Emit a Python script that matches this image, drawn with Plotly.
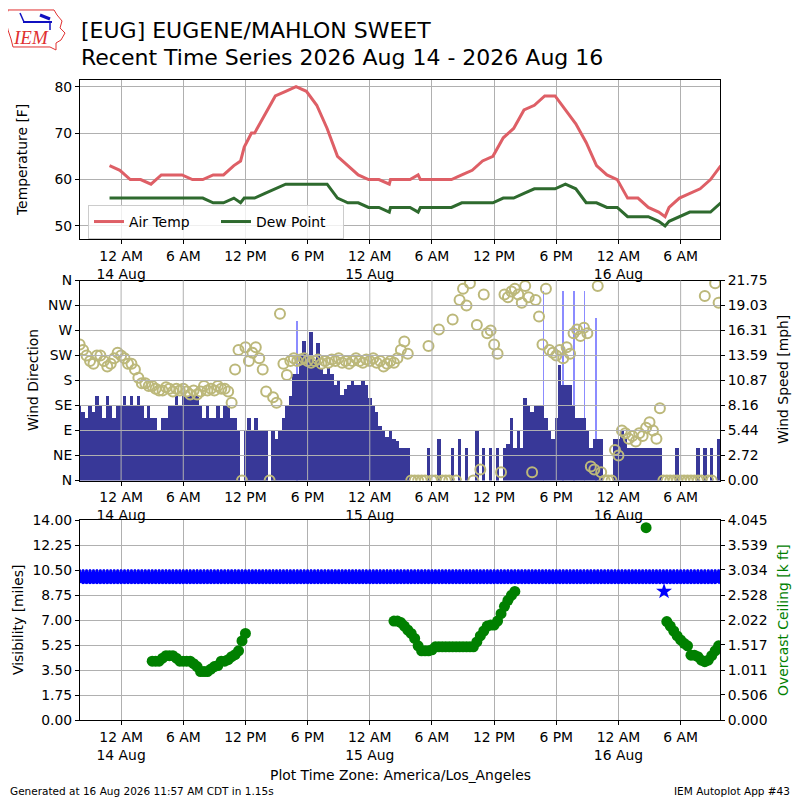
import pandas as pd
import plotly.graph_objects as go

# ── 小时观测：气温 / 露点 (°F) ──
TEMP_TIMES = [
    "2026-08-13 22:53", "2026-08-13 23:53",
    "2026-08-14 00:53", "2026-08-14 01:53", "2026-08-14 02:53", "2026-08-14 03:53",
    "2026-08-14 04:53", "2026-08-14 05:53", "2026-08-14 06:53", "2026-08-14 07:53",
    "2026-08-14 08:53", "2026-08-14 09:53", "2026-08-14 10:53", "2026-08-14 11:32",
    "2026-08-14 11:53", "2026-08-14 12:35", "2026-08-14 12:53", "2026-08-14 13:53",
    "2026-08-14 14:53", "2026-08-14 15:53", "2026-08-14 16:53", "2026-08-14 17:53",
    "2026-08-14 18:53", "2026-08-14 19:53", "2026-08-14 20:53", "2026-08-14 21:53",
    "2026-08-14 22:53", "2026-08-14 23:53",
    "2026-08-15 00:53", "2026-08-15 01:53", "2026-08-15 02:00", "2026-08-15 02:53",
    "2026-08-15 03:53", "2026-08-15 04:40", "2026-08-15 04:53", "2026-08-15 05:53",
    "2026-08-15 06:53", "2026-08-15 07:53", "2026-08-15 08:53", "2026-08-15 09:53",
    "2026-08-15 10:53", "2026-08-15 11:53", "2026-08-15 12:53", "2026-08-15 13:53",
    "2026-08-15 14:53", "2026-08-15 15:53", "2026-08-15 16:53", "2026-08-15 17:53",
    "2026-08-15 18:53", "2026-08-15 19:53", "2026-08-15 20:53", "2026-08-15 21:53",
    "2026-08-15 22:53", "2026-08-15 23:53",
    "2026-08-16 00:53", "2026-08-16 01:53", "2026-08-16 02:53", "2026-08-16 03:53",
    "2026-08-16 04:30", "2026-08-16 04:53", "2026-08-16 05:53", "2026-08-16 06:53",
    "2026-08-16 07:53", "2026-08-16 08:53", "2026-08-16 09:53",
]
TEMP_F = [
    63, 62,
    60, 60, 59, 61, 61, 61, 60, 60, 61, 61, 63, 64, 67, 70, 70, 74, 78, 79, 80, 79,
    76, 71, 65, 63, 61, 60,
    60, 59, 60, 60, 60, 61, 60, 60, 60, 60, 61, 62, 64, 65, 69, 71, 75, 76, 78, 78,
    75, 72, 68, 63, 61, 60,
    56, 56, 54, 53, 52, 54, 56, 57, 58, 60, 63,
]
DEWP_F = [
    56, 56,
    56, 56, 56, 56, 56, 56, 56, 56, 55, 55, 56, 55, 56, 56, 56, 57, 58, 59, 59, 59,
    59, 59, 56, 55, 55, 54,
    54, 53, 54, 54, 54, 53, 54, 54, 54, 54, 55, 55, 55, 55, 56, 56, 57, 58, 58, 58,
    59, 58, 55, 55, 54, 54,
    52, 52, 52, 51, 50, 51, 52, 53, 53, 53, 55,
]

# ── 20 分钟采样：风速 (mph) / 风向 (deg) / 能见度 (mi) / 云底 (k ft) ──
GRID_START = "2026-08-13 20:00"
WIND_MPH = [
    8.2, 7.5, 6.9, 8.2, 7.5, 9.2, 8.2, 6.9, 9.2, 8.2,
    6.9, 8.2, 8.2, 9.2, 8.2, 9.2, 8.2, 9.2, 8.2, 6.9,
    8.2, 6.9, 6.9, 5.4, 6.9, 6.9, 8.2, 8.2, 9.2, 8.2,
    9.2, 9.2, 9.2, 9.2, 9.2, 8.2, 6.9, 8.2, 6.9, 6.9,
    8.2, 6.9, 8.2, 8.2, 6.9, 6.9, 5.4, 0, 5.4, 6.9,
    5.4, 6.9, 5.4, 5.4, 5.4, 0, 5.4, 4.6, 5.4, 6.9,
    8.2, 9.2, 11.6, 11.6, 13.6, 15.2, 13.6, 16.2, 13.0, 15.0,
    12.3, 11.6, 12.3, 11.6, 10.4, 11.0, 9.4, 10.0, 10.4, 11.0,
    10.4, 10.4, 11.0, 10.4, 9.0, 8.2, 7.5, 6.0, 5.4, 4.8,
    5.4, 4.6, 4.3, 3.6, 3.6, 3.6, 0, 0, 0, 0,
    0, 3.6, 0, 0, 4.6, 0, 0, 0, 3.6, 0,
    4.6, 0, 3.6, 0, 0, 5.4, 0, 3.6, 0, 3.6,
    0, 3.6, 0, 3.6, 4.0, 6.9, 3.6, 5.4, 3.6, 9.0,
    8.2, 7.5, 8.2, 8.2, 8.2, 6.9, 5.4, 4.6, 6.9, 12.6,
    10.4, 10.4, 10.4, 8.2, 6.9, 6.9, 6.9, 5.4, 3.6, 4.6,
    4.6, 4.6, 0, 0, 0, 4.6, 4.6, 5.4, 4.6, 3.6,
    3.6, 3.6, 3.6, 3.6, 3.6, 3.6, 3.6, 3.6, 3.6, 0,
    0, 0, 0, 3.6, 0, 0, 0, 0, 0, 3.6,
    0, 3.6, 0, 3.6, 0, 4.6,
]
WIND_DIR = [
    245, 235, 225, 215, 210, 225, 225, 215, 205, 210,
    220, 230, 225, 220, 210, 210, 200, 185, 175, 175,
    170, 170, 165, 162, 162, 168, 165, 160, 165, 162,
    165, 160, 155, 162, 155, 160, 170, 162, 165, 162,
    170, 165, 165, 160, 140, 200, 235, 0, 240, 215,
    230, 240, 220, 200, 160, 0, 150, 140, 300, 210,
    190, 215, 220, 215, 218, 220, 215, 212, 215, 218,
    210, 215, 212, 218, 215, 220, 212, 215, 210, 215,
    220, 215, 212, 218, 215, 220, 212, 215, 205, 210,
    215, 212, 220, 235, 250, 228, 0, 0, 0, 0,
    0, 242, 0, 0, 272, 0, 0, 0, 290, 0,
    325, 345, 315, 355, 0, 280, 20, 335, 265, 270,
    245, 228, 15, 335, 330, 340, 345, 335, 320, 350,
    330, 15, 325, 295, 245, 345, 235, 230, 225, 235,
    220, 240, 228, 265, 272, 260, 275, 265, 25, 20,
    350, 15, 0, 0, 0, 55, 45, 90, 85, 75,
    80, 70, 85, 80, 95, 105, 90, 75, 130, 0,
    0, 0, 0, 0, 0, 0, 0, 0, 0, 0,
    0, 332, 0, 0, 355, 320,
]
VIS_MILES = [
    10.0, 10.0, 10.0, 10.0, 10.0, 10.0, 10.0, 10.0, 10.0, 10.0,
    10.0, 10.0, 10.0, 10.0, 10.0, 10.0, 10.0, 10.0, 10.0, 10.0,
    10.0, 10.0, 10.0, 10.0, 10.0, 10.0, 10.0, 10.0, 10.0, 10.0,
    10.0, 10.0, 10.0, 10.0, 10.0, 10.0, 10.0, 10.0, 10.0, 10.0,
    10.0, 10.0, 10.0, 10.0, 10.0, 10.0, 10.0, 10.0, 10.0, 10.0,
    10.0, 10.0, 10.0, 10.0, 10.0, 10.0, 10.0, 10.0, 10.0, 10.0,
    10.0, 10.0, 10.0, 10.0, 10.0, 10.0, 10.0, 10.0, 10.0, 10.0,
    10.0, 10.0, 10.0, 10.0, 10.0, 10.0, 10.0, 10.0, 10.0, 10.0,
    10.0, 10.0, 10.0, 10.0, 10.0, 10.0, 10.0, 10.0, 10.0, 10.0,
    10.0, 10.0, 10.0, 10.0, 10.0, 10.0, 10.0, 10.0, 10.0, 10.0,
    10.0, 10.0, 10.0, 10.0, 10.0, 10.0, 10.0, 10.0, 10.0, 10.0,
    10.0, 10.0, 10.0, 10.0, 10.0, 10.0, 10.0, 10.0, 10.0, 10.0,
    10.0, 10.0, 10.0, 10.0, 10.0, 10.0, 10.0, 10.0, 10.0, 10.0,
    10.0, 10.0, 10.0, 10.0, 10.0, 10.0, 10.0, 10.0, 10.0, 10.0,
    10.0, 10.0, 10.0, 10.0, 10.0, 10.0, 10.0, 10.0, 10.0, 10.0,
    10.0, 10.0, 10.0, 10.0, 10.0, 10.0, 10.0, 10.0, 10.0, 10.0,
    10.0, 10.0, 10.0, 10.0, 10.0, 10.0, 10.0, 10.0, 10.0, 10.0,
    10.0, 10.0, 10.0, 10.0, 10.0, 10.0, 10.0, 10.0, 10.0, 10.0,
    10.0, 10.0, 10.0, 10.0, 10.0, 10.0,
]
N = None
CEIL_KFT = [
    N, N, N, N, N, N, N, N, N, N,
    N, N, N, N, N, N, N, N, N, N,
    N, 1.19, 1.19, 1.19, 1.25, 1.30, 1.30, 1.30, 1.25, 1.19,
    1.19, 1.19, 1.19, 1.14, 1.08, 0.98, 0.98, 0.98, 1.03, 1.08,
    1.10, 1.19, 1.19, 1.22, 1.28, 1.32, 1.40, 1.60, 1.75, N,
    N, N, N, N, N, N, N, N, N, N,
    N, N, N, N, N, N, N, N, N, N,
    N, N, N, N, N, N, N, N, N, N,
    N, N, N, N, N, N, N, N, N, N,
    N, 2.00, 2.00, 1.97, 1.90, 1.82, 1.75, 1.65, 1.50, 1.40,
    1.40, 1.40, 1.42, 1.48, 1.48, 1.48, 1.48, 1.48, 1.48, 1.48,
    1.48, 1.48, 1.48, 1.48, 1.48, 1.58, 1.70, 1.80, 1.90, 1.92,
    1.92, 2.00, 2.15, 2.30, 2.42, 2.52, 2.60, N, N, N,
    N, N, N, N, N, N, N, N, N, N,
    N, N, N, N, N, N, N, N, N, N,
    N, N, N, N, N, N, N, N, N, N,
    N, N, N, N, 3.89, N, N, N, N, N,
    1.99, 1.90, 1.80, 1.70, 1.62, 1.55, 1.50, 1.31, 1.31, 1.28,
    1.21, 1.18, 1.21, 1.30, 1.40, 1.50,
]

# 阵风 (mph)
GUST_TIMES = ["2026-08-14 17:01", "2026-08-15 16:46", "2026-08-15 18:41",
              "2026-08-15 19:44", "2026-08-15 20:43", "2026-08-15 21:49"]
GUST_MPH = [17.4, 20.7, 20.7, 20.7, 20.7, 17.7]

# 单独的能见度读数
VIS_LOW_TIMES = ["2026-08-16 04:24"]
VIS_LOW = [9.0]

# 坐标轴刻度
X_RANGE = ["2026-08-13 20:02", "2026-08-16 09:48"]
X_TICKS = ["2026-08-14 00:00", "2026-08-14 06:00", "2026-08-14 12:00", "2026-08-14 18:00",
           "2026-08-15 00:00", "2026-08-15 06:00", "2026-08-15 12:00", "2026-08-15 18:00",
           "2026-08-16 00:00", "2026-08-16 06:00"]
X_TICKTEXT = ["12 AM<br>14 Aug", "6 AM", "12 PM", "6 PM", "12 AM<br>15 Aug",
              "6 AM", "12 PM", "6 PM", "12 AM<br>16 Aug", "6 AM"]
DIR_TICKS = [0, 45, 90, 135, 180, 225, 270, 315, 360]
DIR_LABELS = ["N", "NE", "E", "SE", "S", "SW", "W", "NW", "N"]
SPD_TICKS = [0, 2.72, 5.44, 8.16, 10.87, 13.59, 16.31, 19.03, 21.75]
VIS_TICKS = [0, 1.75, 3.5, 5.25, 7.0, 8.75, 10.5, 12.25, 14.0]
CEIL_TICKS = [0, 0.506, 1.011, 1.517, 2.022, 2.528, 3.034, 3.539, 4.045]

assert len(TEMP_TIMES) == len(TEMP_F) == len(DEWP_F)
assert len(WIND_MPH) == len(WIND_DIR) == len(VIS_MILES) == len(CEIL_KFT) == 186

TIMES = pd.date_range(GRID_START, periods=len(WIND_MPH), freq="20min")

FONT = "DejaVu Sans"
GRID = "#b0b0b0"


# 页面有 8px 的 body 边距，图尺寸 792，绘图区在页面像素 80..720
def px(x):  # 页面像素 → paper 坐标
    return (x - 80) / 640


def py(y):
    return (720 - y) / 640


fig = go.Figure()

# ── 面板 1：温度 ──
fig.add_trace(go.Scatter(x=TEMP_TIMES, y=TEMP_F, mode="lines", name="Air Temp",
                         line=dict(color="#de5f66", width=3), xaxis="x", yaxis="y"))
fig.add_trace(go.Scatter(x=TEMP_TIMES, y=DEWP_F, mode="lines", name="Dew Point",
                         line=dict(color="#2e6a2e", width=3), xaxis="x", yaxis="y"))

# ── 面板 2：风 ──
fig.add_trace(go.Bar(x=GUST_TIMES, y=GUST_MPH, width=5 * 60 * 1000,
                     marker=dict(color="#8c8cff", line=dict(width=0)),
                     showlegend=False, xaxis="x2", yaxis="y2"))
fig.add_trace(go.Bar(x=TIMES, y=WIND_MPH, width=20 * 60 * 1000,
                     marker=dict(color="#383898", line=dict(width=0)),
                     showlegend=False, xaxis="x2", yaxis="y2"))
fig.add_trace(go.Scatter(x=TIMES, y=WIND_DIR, mode="markers",
                         marker=dict(symbol="circle-open", size=10, color="#bcb87a",
                                     line=dict(width=2, color="#bcb87a")),
                         showlegend=False, xaxis="x2", yaxis="y3"))

# ── 面板 3：能见度 / 云底 ──
fig.add_trace(go.Scatter(x=TIMES, y=VIS_MILES, mode="markers",
                         marker=dict(symbol="star", size=11, color="#0000ff",
                                     line=dict(width=2, color="#0000ff")),
                         showlegend=False, xaxis="x3", yaxis="y4"))
fig.add_trace(go.Scatter(x=VIS_LOW_TIMES, y=VIS_LOW, mode="markers",
                         marker=dict(symbol="star", size=12, color="#0000ff", line=dict(width=0)),
                         showlegend=False, xaxis="x3", yaxis="y4"))
fig.add_trace(go.Scatter(x=TIMES, y=CEIL_KFT, mode="markers",
                         marker=dict(size=11, color="#008000", line=dict(width=0)),
                         showlegend=False, xaxis="x3", yaxis="y5"))

xcommon = dict(type="date", range=X_RANGE, tickmode="array", tickvals=X_TICKS,
               ticktext=X_TICKTEXT, showline=True, linecolor="black", linewidth=1,
               mirror=True, ticks="outside", ticklen=4, tickcolor="black",
               gridcolor=GRID, gridwidth=1, zeroline=False,
               tickfont=dict(family=FONT, size=13.9, color="black"))
ycommon = dict(showline=True, linecolor="black", linewidth=1, ticks="outside",
               ticklen=4, tickcolor="black", gridcolor=GRID, gridwidth=1, zeroline=False,
               tickfont=dict(family=FONT, size=13.9, color="black"))

fig.update_layout(
    width=792, height=792,
    margin=dict(l=72, r=80, t=72, b=80),
    paper_bgcolor="white", plot_bgcolor="white",
    barmode="overlay", bargap=0,
    font=dict(family=FONT, size=13.9, color="black"),
    xaxis=dict(xcommon, anchor="y", showgrid=True),
    yaxis=dict(ycommon, domain=[py(239.3), 1.0], range=[47.13, 81.44],
               tickvals=[50, 60, 70, 80], mirror=True, showgrid=True),
    xaxis2=dict(xcommon, anchor="y2", showgrid=False),
    yaxis2=dict(ycommon, domain=[py(480.5), py(280.5)], anchor="x2", side="right",
                range=[0, 21.75], tickvals=SPD_TICKS,
                ticktext=["%.2f" % v for v in SPD_TICKS], showgrid=False),
    yaxis3=dict(ycommon, overlaying="y2", anchor="x2", side="left", range=[0, 360],
                tickvals=DIR_TICKS, ticktext=DIR_LABELS, showgrid=False),
    xaxis3=dict(xcommon, anchor="y4", showgrid=True),
    yaxis4=dict(ycommon, domain=[0, py(520)], anchor="x3", side="left", range=[0, 14],
                tickvals=VIS_TICKS, ticktext=["%.2f" % v for v in VIS_TICKS], showgrid=True),
    yaxis5=dict(ycommon, overlaying="y4", anchor="x3", side="right", range=[0, 4.045],
                tickvals=CEIL_TICKS, ticktext=["%.3f" % v for v in CEIL_TICKS], showgrid=False),
    legend=dict(orientation="h", x=px(88), y=py(205), xanchor="left", yanchor="top",
                bgcolor="rgba(255,255,255,0.8)", bordercolor="#cccccc", borderwidth=1,
                font=dict(family=FONT, size=13.9), itemwidth=30, entrywidth=82),
)

# 面板 2 网格线画在柱子之上
shapes = []
for d in DIR_TICKS[1:-1]:
    shapes.append(dict(type="line", xref="x2 domain", yref="y3", x0=0, x1=1, y0=d, y1=d,
                       line=dict(color=GRID, width=1), layer="above"))
for t in X_TICKS:
    shapes.append(dict(type="line", xref="x2", yref="y2 domain", x0=t, x1=t, y0=0, y1=1,
                       line=dict(color=GRID, width=1), layer="above"))

# IEM 标志（简化）
logo = [(8, 10), (54, 10), (57, 15), (62, 21), (60, 28), (65, 33), (61, 40), (56, 43),
        (56, 50), (50, 47), (13, 47), (11, 39), (8, 30), (6, 20)]
path = "M " + " L ".join("%.4f,%.4f" % (px(a), py(b)) for a, b in logo) + " Z"
shapes.append(dict(type="path", xref="paper", yref="paper", path=path,
                   line=dict(color="#e03030", width=1)))
shapes.append(dict(type="line", xref="paper", yref="paper", x0=px(23), x1=px(52),
                   y0=py(22), y1=py(22), line=dict(color="#1010c0", width=2)))
shapes.append(dict(type="line", xref="paper", yref="paper", x0=px(20), x1=px(24),
                   y0=py(13), y1=py(22), line=dict(color="#1010c0", width=1.5)))
shapes.append(dict(type="line", xref="paper", yref="paper", x0=px(40), x1=px(50),
                   y0=py(15), y1=py(19), line=dict(color="#1010c0", width=3)))
shapes.append(dict(type="line", xref="paper", yref="paper", x0=px(50), x1=px(50),
                   y0=py(22), y1=py(30), line=dict(color="#1010c0", width=1.5)))
fig.update_layout(shapes=shapes)

for txt, y in [("[EUG] EUGENE/MAHLON SWEET", 30),
               ("Recent Time Series 2026 Aug 14 - 2026 Aug 16", 57)]:
    fig.add_annotation(text=txt, x=px(79), y=py(y), xref="paper", yref="paper",
                       xanchor="left", yanchor="middle", showarrow=False,
                       font=dict(family=FONT, size=22, color="black"))

fig.add_annotation(text="<i>IEM</i>", x=px(31), y=py(38), xref="paper", yref="paper",
                   showarrow=False, xanchor="center", yanchor="middle",
                   font=dict(family="Liberation Serif", size=19, color="#e03030"))

ytitles = [
    ("Temperature [F]", 22, 160, "black"),
    ("Wind Direction", 33, 380, "black"),
    ("Wind Speed [mph]", 783, 380, "black"),
    ("Visibility [miles]", 18, 620, "black"),
    ("Overcast Ceiling [k ft]", 783, 620, "#008000"),
]
for txt, x, y, c in ytitles:
    fig.add_annotation(text=txt, x=px(x), y=py(y), xref="paper", yref="paper",
                       textangle=-90, showarrow=False, xanchor="center", yanchor="middle",
                       font=dict(family=FONT, size=13.9, color=c))

fig.add_annotation(text="Plot Time Zone: America/Los_Angeles", x=0.5, y=py(775),
                   xref="paper", yref="paper", showarrow=False, xanchor="center",
                   yanchor="middle", font=dict(family=FONT, size=13.9, color="black"))
fig.add_annotation(text="Generated at 16 Aug 2026 11:57 AM CDT in 1.15s", x=px(8), y=py(791),
                   xref="paper", yref="paper", showarrow=False, xanchor="left",
                   yanchor="middle", font=dict(family=FONT, size=10.5, color="black"))
fig.add_annotation(text="IEM Autoplot App #43", x=px(792), y=py(791),
                   xref="paper", yref="paper", showarrow=False, xanchor="right",
                   yanchor="middle", font=dict(family=FONT, size=10.5, color="black"))

fig.write_html("out.html")
